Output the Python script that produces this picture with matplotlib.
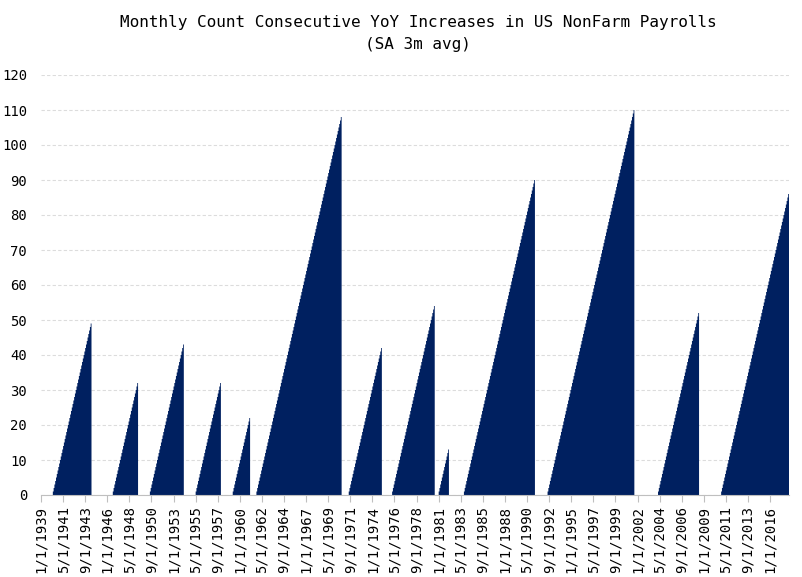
import numpy as np
import pandas as pd
import matplotlib
matplotlib.use('Agg')
import matplotlib.pyplot as plt

# monthly sample, Jan 1939 .. Dec 2017
first_month = '1939-01-01'
last_month = '2017-12-01'

# each streak of consecutive YoY increases: first month and its length (peak count)
run_starts = ['1940-04-01', '1946-08-01', '1950-07-01', '1955-05-01', '1959-04-01',
              '1961-10-01', '1971-07-01', '1976-02-01', '1981-01-01', '1983-09-01',
              '1992-07-01', '2004-03-01', '2010-11-01']
run_peaks = [49, 32, 43, 32, 22, 108, 42, 54, 13, 90, 110, 52, 86]

months = pd.date_range(first_month, last_month, freq='MS')
counts = np.zeros(len(months))
for s, n in zip(run_starts, run_peaks):
    i = months.get_loc(pd.Timestamp(s))
    counts[i:i+n] = np.arange(1, n+1)

navy = '#002060'
plt.rcParams['font.family'] = ['DejaVu Sans Mono']

fig = plt.figure(figsize=(8.03, 5.77), dpi=100)
ax = fig.add_axes([41/803, 82/577, 748/803, 420/577])

edges = np.arange(len(months)+1)
ax.stairs(counts, edges, fill=True, color=navy, linewidth=0)

ax.set_xlim(0, len(months))
ax.set_ylim(0, 120)
ax.set_yticks(np.arange(0, 121, 10))
ax.yaxis.grid(True, color='#dcdcdc', linestyle=(0, (3, 2)), linewidth=0.8)
ax.set_axisbelow(True)

step = 28
tick_idx = np.arange(0, len(months), step)
ax.set_xticks(tick_idx)
ax.set_xticklabels(['{}/1/{}'.format(months[i].month, months[i].year) for i in tick_idx],
                   rotation=90, fontsize=10)
ax.tick_params(axis='x', length=5, color='#bfbfbf', pad=3)
ax.tick_params(axis='y', length=0, pad=10, labelsize=10)

for sp in ['top', 'right', 'left']:
    ax.spines[sp].set_visible(False)
ax.spines['bottom'].set_color('#bfbfbf')

fig.text(418/803, 1-22/577, 'Monthly Count Consecutive YoY Increases in US NonFarm Payrolls',
         ha='center', va='center', fontsize=11.5)
fig.text(418/803, 1-45/577, '(SA 3m avg)', ha='center', va='center', fontsize=11.5)

fig.savefig('out.png', dpi=100)
